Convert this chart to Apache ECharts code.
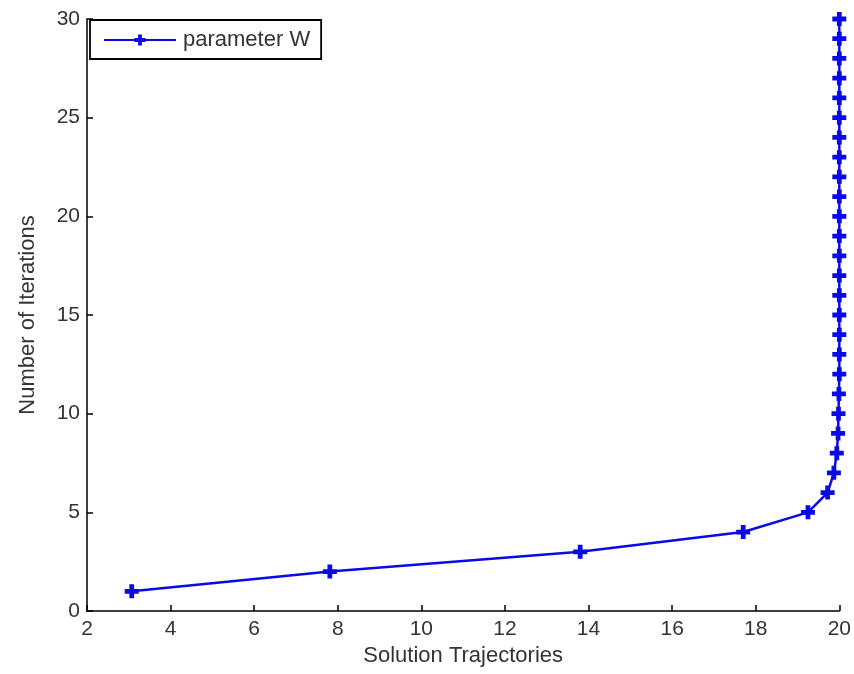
<!DOCTYPE html>
<html><head><meta charset="utf-8">
<script src="https://cdn.jsdelivr.net/npm/echarts@6/dist/echarts.min.js"></script>
<style>html,body{margin:0;padding:0;background:#fff}#c{width:854px;height:674px}</style>
</head><body><div id="c"></div>
<script>
const iterations = [1,2,3,4,5,6,7,8,9,10,11,12,13,14,15,16,17,18,19,20,21,22,23,24,25,26,27,28,29,30];
const trajectory = [3.07,7.81,13.8,17.7,19.25,19.72,19.87,19.94,19.97,19.98,19.99,20,20,20,20,20,20,20,20,20,20,20,20,20,20,20,20,20,20,20];
const seriesName = 'parameter W';
const xTicks = {min: 2, max: 20, interval: 2};
const yTicks = {min: 0, max: 30, interval: 5};

const plus = 'path://M3.3,0h3.4v3.3h3.3v3.4h-3.3v3.3h-3.4v-3.3h-3.3v-3.4h3.3z';
const font = 'Liberation Sans';
const chart = echarts.init(document.getElementById('c'));
chart.setOption({
  animation: false,
  grid: {left: 87, right: 14, top: 19, bottom: 63, containLabel: false},
  legend: {
    data: [seriesName], left: 90, top: 20, orient: 'vertical',
    borderColor: '#000', borderWidth: 1.8, padding: [9, 11, 8, 13],
    itemWidth: 72, itemHeight: 14, itemGap: 0,
    textStyle: {fontFamily: font, fontSize: 22, color: '#333', padding: [0, 0, 0, 2]}
  },
  xAxis: {
    type: 'value', min: xTicks.min, max: xTicks.max, interval: xTicks.interval,
    name: 'Solution Trajectories', nameLocation: 'middle', nameGap: 34,
    nameTextStyle: {fontFamily: font, fontSize: 22, color: '#333'},
    axisLine: {lineStyle: {color: '#000', width: 1.5}},
    axisTick: {inside: true, length: 6, lineStyle: {color: '#000', width: 1.5}},
    axisLabel: {fontFamily: font, fontSize: 21, color: '#333', margin: 8},
    splitLine: {show: false}
  },
  yAxis: {
    type: 'value', min: yTicks.min, max: yTicks.max, interval: yTicks.interval,
    name: 'Number of Iterations', nameLocation: 'middle', nameGap: 48,
    nameTextStyle: {fontFamily: font, fontSize: 22, color: '#333'},
    axisLine: {show: true, lineStyle: {color: '#000', width: 1.5}},
    axisTick: {show: true, inside: true, length: 6, lineStyle: {color: '#000', width: 1.5}},
    axisLabel: {fontFamily: font, fontSize: 21, color: '#333', margin: 7},
    splitLine: {show: false}
  },
  series: [{
    name: seriesName, type: 'line',
    data: trajectory.map((v, i) => [v, iterations[i]]),
    symbol: plus, symbolSize: 14, showAllSymbol: true,
    lineStyle: {color: '#0a0ae6', width: 2.5},
    itemStyle: {color: '#0a0ae6'}
  }]
});
</script></body></html>
